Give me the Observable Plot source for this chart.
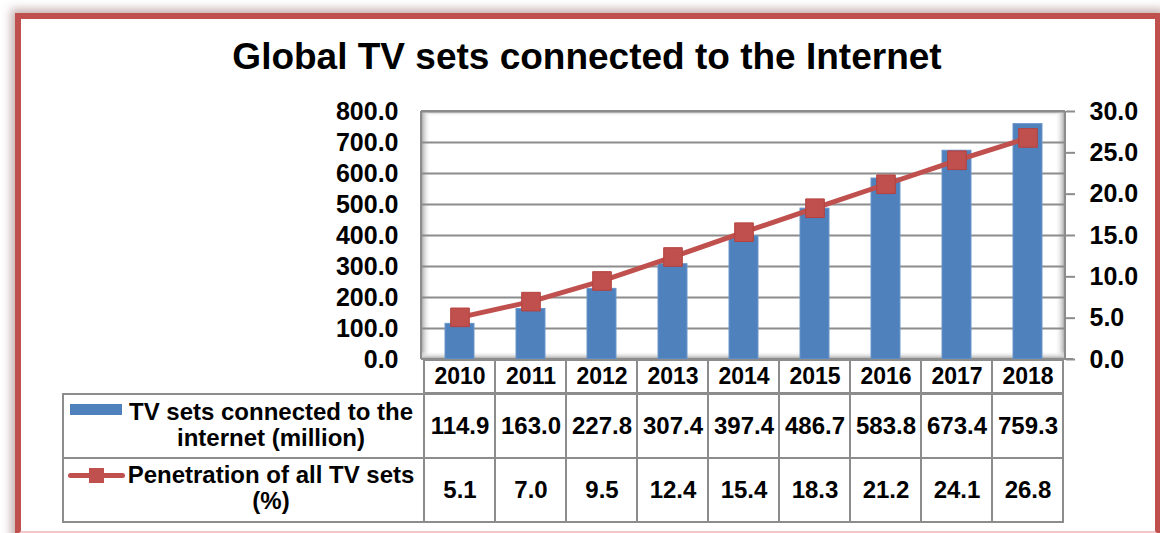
<!DOCTYPE html>
<html>
<head>
<meta charset="utf-8">
<script src="https://cdn.jsdelivr.net/npm/d3@7"></script>
<script src="https://cdn.jsdelivr.net/npm/@observablehq/plot@0.6"></script>
<style>
  html, body { margin: 0; padding: 0; background: #fff; overflow: hidden; }
  #root { position: relative; width: 1160px; height: 533px; overflow: hidden;
          font-family: "Liberation Sans", Arial, sans-serif; font-weight: bold; color: #000; background: #fff; }
  #frame { position: absolute; left: 15px; top: 13px; width: 1146px; height: 524px; box-sizing: border-box;
           border: 6px solid #C0504D; border-bottom-color: #f0c6c6;
           box-shadow: 0 0 9px 4px rgba(150, 110, 110, 0.55); background: #fff; }
  #title { position: absolute; left: 0; top: 36px; width: 1174px; text-align: center;
           font-size: 37px; line-height: 42px; white-space: nowrap; }
  .plot { position: absolute; left: 0; }
  .labelcell { position: absolute; left: 62px; width: 361px; box-sizing: border-box;
               border: 2px solid #8c8c8c; border-right: none; background: #fff; }
  .labeltext { position: absolute; left: 127px; width: 288px; text-align: center;
               font-size: 24px; line-height: 26px; }
  .key { position: absolute; }
</style>
</head>
<body>
<div id="root">
  <div id="frame"></div>
  <div id="title"></div>
</div>
<script>
// ---- data ----
const chartTitle = "Global TV sets connected to the Internet";
const years = ["2010", "2011", "2012", "2013", "2014", "2015", "2016", "2017", "2018"];
const tvSets = [114.9, 163.0, 227.8, 307.4, 397.4, 486.7, 583.8, 673.4, 759.3];
const penetration = [5.1, 7.0, 9.5, 12.4, 15.4, 18.3, 21.2, 24.1, 26.8];
const leftTicks = [0, 100, 200, 300, 400, 500, 600, 700, 800];
const rightTicks = [0, 5, 10, 15, 20, 25, 30];
const seriesTV = ["TV sets connected to the", "internet (million)"];
const seriesPen = ["Penetration of all TV sets", "(%)"];

const BLUE = "#4F81BD";
const RED = "#C0504D";
const GRID = "#8c8c8c";

const root = document.getElementById("root");
document.getElementById("title").textContent = chartTitle;

const data = years.map((year, i) => ({year, tv: tvSets[i], pen: penetration[i]}));
const fmt = d3.format(".1f");

const W = 1160, ML = 421, MR = 95;
const xBand = {type: "band", domain: years, paddingInner: 0.594, paddingOuter: 0.297, axis: null};
const fontStyle = {fontFamily: "Liberation Sans, Arial, sans-serif", fontWeight: "bold", background: "transparent", overflow: "visible"};

// 3D-ish chart walls
function walls(index, scales, values, dims) {
  const ns = "http://www.w3.org/2000/svg";
  const g = document.createElementNS(ns, "g");
  const x0 = dims.marginLeft, x1 = dims.width - dims.marginRight;
  const y0 = dims.marginTop, y1 = dims.height - dims.marginBottom;
  g.innerHTML = `
    <defs>
      <linearGradient id="wl" x1="0" x2="1" y1="0" y2="0">
        <stop offset="0" stop-color="#9a9a9a"/><stop offset="0.25" stop-color="#c8c8c8"/><stop offset="1" stop-color="#ffffff" stop-opacity="0"/>
      </linearGradient>
      <linearGradient id="wr" x1="1" x2="0" y1="0" y2="0">
        <stop offset="0" stop-color="#9a9a9a"/><stop offset="0.25" stop-color="#c8c8c8"/><stop offset="1" stop-color="#ffffff" stop-opacity="0"/>
      </linearGradient>
      <linearGradient id="wt" x1="0" x2="0" y1="0" y2="1">
        <stop offset="0" stop-color="#9a9a9a"/><stop offset="1" stop-color="#ffffff" stop-opacity="0"/>
      </linearGradient>
      <linearGradient id="wb" x1="0" x2="0" y1="1" y2="0">
        <stop offset="0" stop-color="#9a9a9a"/><stop offset="0.3" stop-color="#d0d0d0"/><stop offset="1" stop-color="#ffffff" stop-opacity="0"/>
      </linearGradient>
    </defs>
    <rect x="${x0}" y="${y0}" width="${x1 - x0}" height="5" fill="url(#wt)"/>
    <rect x="${x0}" y="${y0}" width="10" height="${y1 - y0}" fill="url(#wl)"/>
    <rect x="${x1 - 10}" y="${y0}" width="10" height="${y1 - y0}" fill="url(#wr)"/>
    <rect x="${x0}" y="${y1 - 8}" width="${x1 - x0}" height="8" fill="url(#wb)"/>
    <line x1="${x0}" x2="${x1}" y1="${y0}" y2="${y0}" stroke="${GRID}" stroke-width="2"/>
    <line x1="${x0}" x2="${x0}" y1="${y0}" y2="${y1}" stroke="${GRID}" stroke-width="2"/>
    <line x1="${x1}" x2="${x1}" y1="${y0}" y2="${y1}" stroke="${GRID}" stroke-width="2"/>
    <line x1="${x0}" x2="${x1 + 8}" y1="${y1}" y2="${y1}" stroke="${GRID}" stroke-width="2"/>`;
  return g;
}

// ---- main chart (bars, left axis) ----
const barsPlot = Plot.plot({
  width: W, height: 270, marginLeft: ML, marginRight: MR, marginTop: 11, marginBottom: 11,
  style: fontStyle,
  x: xBand,
  y: {domain: [0, 800], axis: null, label: null},
  marks: [
    walls,
    Plot.ruleY(leftTicks.slice(1), {stroke: GRID, strokeWidth: 2}),
    Plot.barY(data, {x: "year", y: "tv", fill: BLUE, stroke: "#6a95cc", strokeWidth: 1}),
    Plot.axisY(leftTicks, {anchor: "left", label: null, tickSize: 0, tickPadding: 23, tickFormat: fmt,
                           fontSize: 25, fontWeight: "bold", fill: "#000"})
  ]
});
barsPlot.classList.add("plot");
barsPlot.style.top = "100px";
root.appendChild(barsPlot);

// ---- overlay (line, right axis) ----
const linePlot = Plot.plot({
  width: W, height: 270, marginLeft: ML, marginRight: MR, marginTop: 11, marginBottom: 11,
  style: fontStyle,
  x: xBand,
  y: {domain: [0, 30], axis: null, label: null},
  marks: [
    Plot.line(data, {x: "year", y: "pen", stroke: RED, strokeWidth: 5}),
    Plot.dot(data, {x: "year", y: "pen", symbol: "square", r: 10.5, fill: RED, stroke: "#b5413e", strokeWidth: 1}),
    Plot.axisY(rightTicks, {anchor: "right", label: null, tickSize: 9, tickPadding: 15, tickFormat: fmt,
                            fontSize: 25, fontWeight: "bold", stroke: GRID, strokeWidth: 2, fill: "#000"})
  ]
});
linePlot.classList.add("plot");
linePlot.style.top = "100px";
root.appendChild(linePlot);

// ---- data table: year header ----
const headPlot = Plot.plot({
  width: W, height: 35, marginLeft: ML, marginRight: MR, marginTop: 1, marginBottom: 1,
  style: fontStyle,
  x: {...xBand, paddingInner: 0, paddingOuter: 0},
  marks: [
    Plot.cell(years, {x: d => d, fill: "#fff", stroke: GRID, strokeWidth: 2}),
    Plot.text(years, {x: d => d, text: d => d, fontSize: 23, fontWeight: "bold", fill: "#000"})
  ]
});
headPlot.classList.add("plot");
headPlot.style.top = "359px";
root.appendChild(headPlot);

// ---- data table: values ----
const rows = ["tv", "pen"];
const cells = data.flatMap(d => [
  {year: d.year, row: "tv", text: fmt(d.tv)},
  {year: d.year, row: "pen", text: fmt(d.pen)}
]);
const bodyPlot = Plot.plot({
  width: W, height: 130, marginLeft: ML, marginRight: MR, marginTop: 1, marginBottom: 1,
  style: fontStyle,
  x: {...xBand, paddingInner: 0, paddingOuter: 0},
  y: {type: "band", domain: rows, padding: 0, axis: null},
  marks: [
    Plot.cell(cells, {x: "year", y: "row", fill: "#fff", stroke: GRID, strokeWidth: 2}),
    Plot.text(cells, {x: "year", y: "row", text: "text", fontSize: 24, fontWeight: "bold", fill: "#000"})
  ]
});
bodyPlot.classList.add("plot");
bodyPlot.style.top = "393px";
root.appendChild(bodyPlot);

// ---- label column with legend keys ----
function addDiv(cls, css, html) {
  const d = document.createElement("div");
  d.className = cls;
  Object.assign(d.style, css);
  if (html) d.innerHTML = html;
  root.appendChild(d);
  return d;
}
addDiv("labelcell", {top: "393px", height: "66px"});
addDiv("labelcell", {top: "457px", height: "66px"});
addDiv("labeltext", {top: "399px"}, seriesTV.join("<br>"));
addDiv("labeltext", {top: "462px"}, seriesPen.join("<br>"));
// blue key
addDiv("key", {left: "70px", top: "404px", width: "52px", height: "11px", background: BLUE});
// red line key with square
addDiv("key", {left: "68px", top: "473px", width: "57px", height: "5px", background: RED, borderRadius: "3px"});
addDiv("key", {left: "89px", top: "468px", width: "15px", height: "15px", background: RED});
</script>
</body>
</html>
